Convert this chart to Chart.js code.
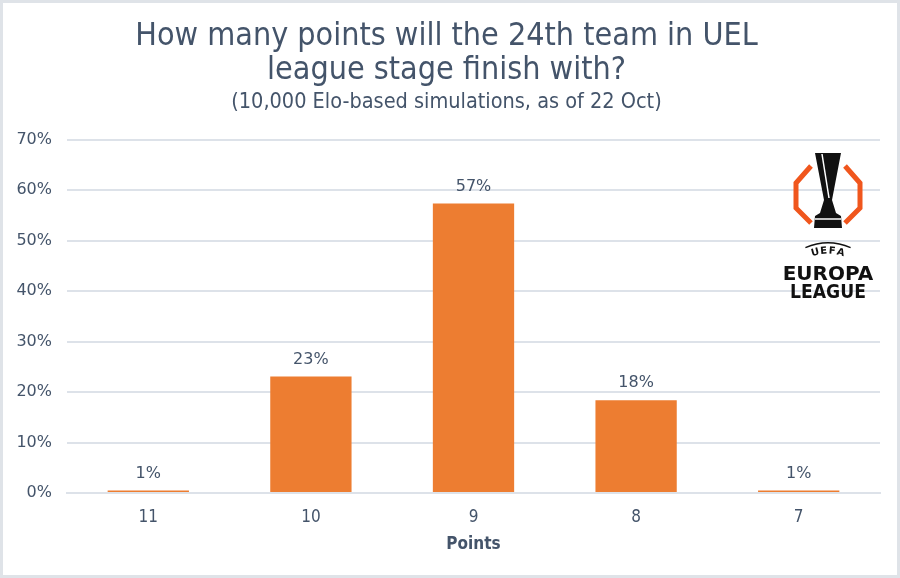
<!DOCTYPE html>
<html>
<head>
<meta charset="utf-8">
<script src="https://cdn.jsdelivr.net/npm/chart.js@4.4.1/dist/chart.umd.min.js"></script>
<style>
    html, body { margin: 0; padding: 0; background: #fff; }
    #frame {
        width: 900px;
        height: 578px;
        box-sizing: border-box;
        border: 3px solid #dfe3e8;
        background: #fff;
    }
    canvas { display: block; }
</style>
</head>
<body>
<div id="frame">
    <canvas id="pointsChart" width="894" height="572"></canvas>
</div>
<script>
const titleLines = ['How many points will the 24th team in UEL', 'league stage finish with?'];
const subtitleText = '(10,000 Elo-based simulations, as of 22 Oct)';
const pointLabels = ['11', '10', '9', '8', '7'];
const shareValues = [0.5, 23.1, 57.4, 18.4, 0.5];
const yTicks = [0, 10, 20, 30, 40, 50, 60, 70];
const xAxisTitle = 'Points';

const textColor = '#44546a';
const barColor = '#ed7d31';
const gridColor = '#dde2e9';
const narrowFont = '"Liberation Sans Narrow", "DejaVu Sans Condensed", sans-serif';
const roundFont = '"DejaVu Sans", sans-serif';

// value labels above the bars
const valueLabels = {
    id: 'valueLabels',
    afterDatasetsDraw(chart) {
        const ctx = chart.ctx;
        const meta = chart.getDatasetMeta(0);
        ctx.save();
        ctx.fillStyle = textColor;
        ctx.font = '16px ' + roundFont;
        ctx.textAlign = 'center';
        ctx.textBaseline = 'bottom';
        meta.data.forEach((bar, i) => {
            ctx.fillText(Math.round(shareValues[i]) + '%', bar.x, bar.y - 9);
        });
        ctx.restore();
    }
};

// Europa League badge in the top right corner
const leagueBadge = {
    id: 'leagueBadge',
    afterDraw(chart) {
        const ctx = chart.ctx;
        const cx = 825;
        ctx.save();

        // orange brackets
        ctx.strokeStyle = '#f0561d';
        ctx.lineWidth = 5;
        ctx.lineJoin = 'miter';
        ctx.beginPath();
        ctx.moveTo(cx - 17, 163);
        ctx.lineTo(cx - 32, 180);
        ctx.lineTo(cx - 32, 205);
        ctx.lineTo(cx - 17, 220);
        ctx.moveTo(cx + 17, 163);
        ctx.lineTo(cx + 32, 180);
        ctx.lineTo(cx + 32, 205);
        ctx.lineTo(cx + 17, 220);
        ctx.stroke();

        // trophy
        ctx.fillStyle = '#111';
        ctx.beginPath();
        ctx.moveTo(cx - 13, 150);
        ctx.lineTo(cx + 13, 150);
        ctx.lineTo(cx + 4, 197);
        ctx.lineTo(cx + 8, 210);
        ctx.lineTo(cx + 13, 213);
        ctx.lineTo(cx + 14, 225);
        ctx.lineTo(cx - 14, 225);
        ctx.lineTo(cx - 13, 213);
        ctx.lineTo(cx - 8, 210);
        ctx.lineTo(cx - 4, 197);
        ctx.closePath();
        ctx.fill();
        ctx.strokeStyle = '#fff';
        ctx.lineWidth = 1.5;
        ctx.beginPath();
        ctx.moveTo(cx - 6, 151);
        ctx.lineTo(cx + 1, 195);
        ctx.moveTo(cx - 13, 216);
        ctx.lineTo(cx + 13, 216);
        ctx.stroke();

        // UEFA arc
        ctx.strokeStyle = '#111';
        ctx.lineWidth = 1.5;
        ctx.beginPath();
        ctx.arc(cx, 298, 58, -Math.PI / 2 - 0.4, -Math.PI / 2 + 0.4);
        ctx.stroke();
        ctx.fillStyle = '#111';
        ctx.font = 'bold 10px ' + roundFont;
        ctx.textAlign = 'center';
        ctx.textBaseline = 'middle';
        ['U', 'E', 'F', 'A'].forEach((ch, i) => {
            const a = (i - 1.5) * 0.17;
            ctx.save();
            ctx.translate(cx + Math.sin(a) * 50, 298 - Math.cos(a) * 50);
            ctx.rotate(a);
            ctx.fillText(ch, 0, 0);
            ctx.restore();
        });

        ctx.textBaseline = 'alphabetic';
        ctx.font = 'bold 20px ' + roundFont;
        ctx.fillText('EUROPA', cx, 277, 92);
        ctx.font = 'bold 20px ' + roundFont;
        ctx.fillText('LEAGUE', cx, 295, 76);
        ctx.restore();
    }
};

const ctx = document.getElementById('pointsChart').getContext('2d');

new Chart(ctx, {
    type: 'bar',
    data: {
        labels: pointLabels,
        datasets: [{
            data: shareValues,
            backgroundColor: barColor,
            borderWidth: 0,
            barPercentage: 0.5,
            categoryPercentage: 1
        }]
    },
    options: {
        responsive: false,
        animation: false,
        layout: {
            padding: { left: 10, right: 17, top: 0, bottom: 8 }
        },
        plugins: {
            legend: { display: false },
            tooltip: { enabled: false },
            title: {
                display: true,
                text: titleLines,
                color: textColor,
                font: { family: narrowFont, size: 32, weight: 'normal', lineHeight: 1.0625 },
                padding: { top: 17, bottom: 0 }
            },
            subtitle: {
                display: true,
                text: subtitleText,
                color: textColor,
                font: { family: narrowFont, size: 21.5, weight: 'normal', lineHeight: 1.2 },
                padding: { top: 2, bottom: 24 }
            }
        },
        scales: {
            x: {
                afterFit(scale) { scale.height = 74; },
                grid: { display: false, drawTicks: false },
                border: { color: gridColor, width: 2 },
                ticks: {
                    color: textColor,
                    font: { family: narrowFont, size: 17 },
                    padding: 14
                },
                title: {
                    display: true,
                    text: xAxisTitle,
                    color: textColor,
                    font: { family: narrowFont, size: 17, weight: 'bold' },
                    padding: { top: 0, bottom: 12 }
                }
            },
            y: {
                min: 0,
                max: 70,
                afterFit(scale) { scale.width = 54; },
                afterBuildTicks(scale) {
                    scale.ticks = yTicks.map(v => ({ value: v }));
                },
                grid: { color: gridColor, lineWidth: 2, drawTicks: false },
                border: { display: false },
                ticks: {
                    color: textColor,
                    font: { family: roundFont, size: 16 },
                    padding: 15,
                    callback: v => v + '%'
                }
            }
        }
    },
    plugins: [valueLabels, leagueBadge]
});
</script>
</body>
</html>
